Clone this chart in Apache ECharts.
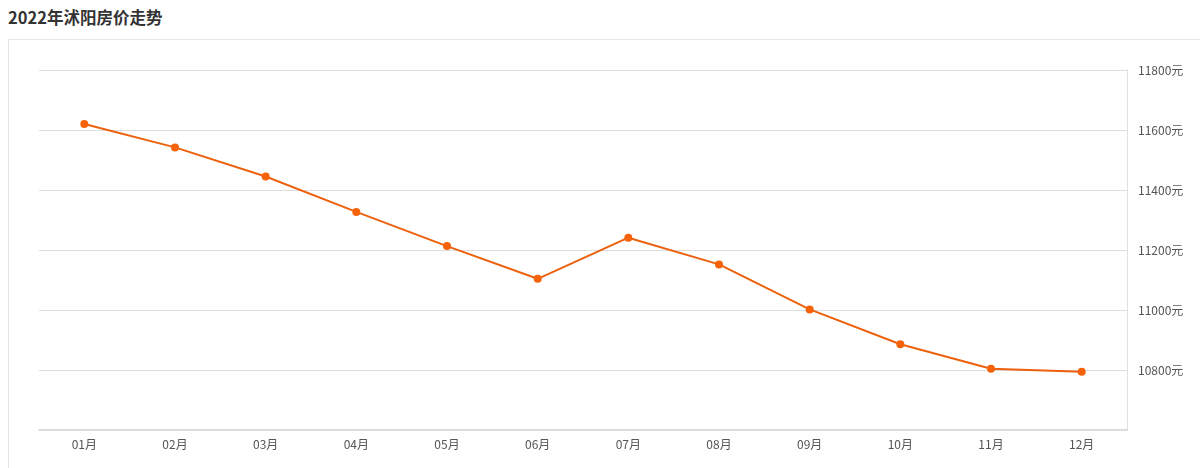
<!DOCTYPE html>
<html>
<head>
<meta charset="utf-8">
<script src="https://cdn.jsdelivr.net/npm/echarts@6/dist/echarts.min.js"></script>
<style>
  body { margin: 0; background: #fff; font-family: "Noto Sans CJK SC", sans-serif; }
  .title {
    position: absolute; left: 8px; top: 5px;
    font-size: 16.5px; font-weight: bold; color: #333;
  }
  .box {
    position: absolute; left: 8px; top: 39px;
    width: 1200px; height: 500px;
    border: 1px solid #e6e6e6;
  }
  #chart { position: absolute; left: 0; top: 0; width: 1200px; height: 468px; }
</style>
</head>
<body>
<div class="title">2022年沭阳房价走势</div>
<div class="box"></div>
<div id="chart"></div>
<script>
// 月份
const months = ['01月', '02月', '03月', '04月', '05月', '06月', '07月', '08月', '09月', '10月', '11月', '12月']
// 房价 (元/平)
const prices = [11620, 11542, 11445, 11327, 11213, 11104, 11241, 11152, 11002, 10886, 10804, 10794]
// 纵轴范围
const yMin = 10600
const yMax = 11800
const yStep = 200

const chart = echarts.init(document.getElementById('chart'))

chart.setOption({
  animation: false,
  grid: { left: 39, right: 73, top: 70, bottom: 38 },
  xAxis: {
    type: 'category',
    data: months,
    axisLine: { lineStyle: { color: '#dcdcdc', width: 2 } },
    axisTick: { alignWithLabel: true, length: 3, lineStyle: { color: '#dcdcdc' } },
    axisLabel: { color: '#555', fontSize: 12, margin: 8, fontFamily: 'Noto Sans CJK SC' }
  },
  yAxis: {
    type: 'value',
    position: 'right',
    min: yMin,
    max: yMax,
    interval: yStep,
    axisLine: { show: true, lineStyle: { color: '#e0e0e0' } },
    axisTick: { show: false },
    axisLabel: {
      color: '#555', fontSize: 12, margin: 11, showMinLabel: false,
      fontFamily: 'Noto Sans CJK SC',
      formatter: (v) => v + '元'
    },
    splitLine: { lineStyle: { color: '#dedede' } }
  },
  series: [
    {
      type: 'line',
      data: prices,
      symbol: 'circle',
      symbolSize: 8,
      lineStyle: { color: '#ec610e', width: 2 },
      itemStyle: { color: '#f5620a' }
    }
  ]
})
</script>
</body>
</html>
